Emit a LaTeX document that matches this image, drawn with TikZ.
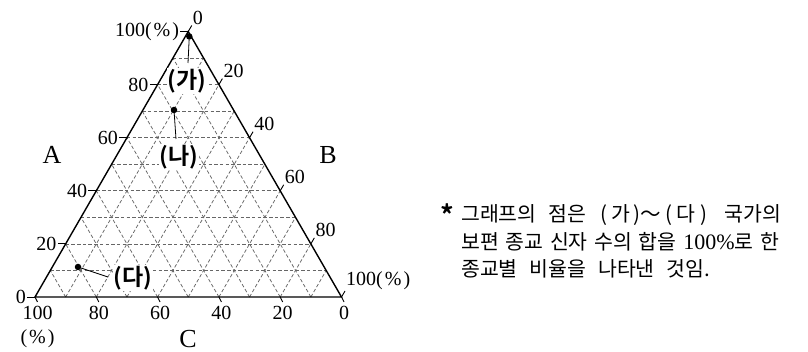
\documentclass[tikz,border=0pt]{standalone}
\usepackage{fontspec}
\setmainfont{Liberation Serif}
\newfontfamily\kr{Noto Sans CJK KR}
\newfontfamily\krb{Noto Sans CJK KR Bold}
\usetikzlibrary{calc}
\begin{document}
\begin{tikzpicture}[x=1pt,y=-1pt,
  side/.style={line width=1.4pt, black, line join=miter},
  gridline/.style={dash pattern=on 3.5pt off 2.2pt, line width=0.75pt, black!60},
  tickmark/.style={line width=0.9pt},
  num/.style={font=\fontsize{20}{24}\selectfont, inner sep=1pt},
  axislbl/.style={font=\fontsize{26}{26}\selectfont, inner sep=0pt},
  ptlbl/.style={font=\krb\fontsize{23}{23}\selectfont, fill=white, inner sep=1pt},
  note/.style={font=\kr\fontsize{20.5}{20.5}\selectfont, anchor=base west, inner sep=0pt},
  dot/.style={circle, fill=black, inner sep=0pt, minimum size=6.5pt},
  leader/.style={line width=0.8pt}]
\useasboundingbox (0,0) rectangle (808,352);
\coordinate (Ac) at (188.25,31.5);
\coordinate (Bc) at (341.5,297);
\coordinate (Cc) at (35,297);
% grid
\foreach \k in {1,...,9} {
  \pgfmathsetmacro\a{\k/10}
  \pgfmathsetmacro\r{1-\k/10}
  \draw[gridline] (barycentric cs:Ac=\a,Bc=0,Cc=\r) -- (barycentric cs:Ac=\a,Bc=\r,Cc=0);
  \draw[gridline] (barycentric cs:Ac=0,Bc=\a,Cc=\r) -- (barycentric cs:Ac=\r,Bc=\a,Cc=0);
  \draw[gridline] (barycentric cs:Ac=0,Bc=\r,Cc=\a) -- (barycentric cs:Ac=\r,Bc=0,Cc=\a);
}
% sides
\draw[side] (Ac) -- (Bc) -- (Cc) -- cycle;
% left axis (A)
\foreach \v/\t in {0/0,20/20,40/40,60/60,80/80,100/{100(\kern2pt\%\kern2pt)}} {
  \pgfmathsetmacro\a{\v/100}
  \pgfmathsetmacro\r{1-\v/100}
  \coordinate (pA\v) at (barycentric cs:Ac=\a,Bc=0,Cc=\r);
  \coordinate (eA\v) at ($(pA\v)+(-8,0)$);
  \draw[tickmark] (pA\v) -- (eA\v);
  \node[num, anchor=east] (lA\v) at (eA\v) {\t};
}
% right axis (B)
\foreach \v/\t in {0/0,20/20,40/40,60/60,80/80,100/{100(\kern2pt\%\kern2pt)}} {
  \pgfmathsetmacro\a{\v/100}
  \pgfmathsetmacro\r{1-\v/100}
  \coordinate (pB\v) at (barycentric cs:Ac=\r,Bc=\a,Cc=0);
  \coordinate (eB\v) at ($(pB\v)+(3.5,-6)$);
  \draw[tickmark] (pB\v) -- (eB\v);
  \node[num, anchor=south west] (lB\v) at (eB\v) {\t};
}
% bottom axis (C)
\foreach \v/\t in {0/0,20/20,40/40,60/60,80/80,100/{100\\(\kern2pt\%\kern2pt)}} {
  \pgfmathsetmacro\a{\v/100}
  \pgfmathsetmacro\r{1-\v/100}
  \coordinate (pC\v) at (barycentric cs:Ac=0,Bc=\r,Cc=\a);
  \coordinate (eC\v) at ($(pC\v)+(2.5,5)$);
  \draw[tickmark] (pC\v) -- (eC\v);
  \node[num, anchor=north, align=center] (lC\v) at ($(eC\v)+(0,3)$) {\t};
}
% axis names
\node[axislbl] (nameA) at (52,155) {A};
\node[axislbl] (nameB) at (328,155) {B};
\node[axislbl] (nameC) at (188,339) {C};
% points
\node[ptlbl] (lga) at (187,81) {(가)};
\node[ptlbl] (lna) at (179,157) {(나)};
\node[ptlbl] (lda) at (133,278) {(다)};
\node[dot] (pga) at (189.3,36.5) {};
\node[dot] (pna) at (174,110) {};
\node[dot] (pda) at (78,267) {};
\coordinate (ega) at (188,63);
\coordinate (ena) at (176,139);
\coordinate (eda) at (108,277);
\draw[leader] (pga) -- (ega);
\draw[leader] (pna) -- (ena);
\draw[leader] (pda) -- (eda);
% note
\node[font=\krb\fontsize{27}{27}\selectfont, inner sep=0pt] (star) at (447,215) {*};
\node[note] (note1) at (461,222) {그래프의\kern12pt 점은\kern14pt(\kern4pt 가\kern3pt)～\kern5pt(\kern4pt 다\kern5pt)\kern17pt 국가의};
\node[note] (note2) at (461,249.5) {\makebox[318pt][s]{보편 종교 신자 수의 합을 {\rmfamily\fontsize{22}{22}\selectfont 100\%}로 한}};
\node[note] (note3) at (461,277) {\makebox[249pt][s]{종교별 비율을 나타낸 것임.}};
\end{tikzpicture}
\end{document}
